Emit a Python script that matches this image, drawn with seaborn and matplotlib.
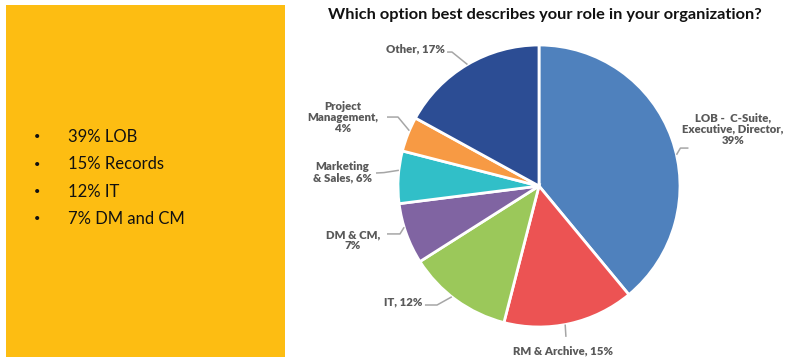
import matplotlib
matplotlib.use("Agg")
import matplotlib.pyplot as plt
import matplotlib.patches as mpatches
import numpy as np
import seaborn as sns

# Survey responses: role in the organization
roles = ["LOB -  C-Suite,\nExecutive, Director,\n39%", "RM & Archive, 15%", "IT, 12%",
         "DM & CM,\n7%", "Marketing\n& Sales, 6%", "Project\nManagement,\n4%", "Other, 17%"]
shares = [39, 15, 12, 7, 6, 4, 17]
colors = ["#4F81BD", "#EC5353", "#9BC85A", "#8064A2", "#31BFC8", "#F79A44", "#2C4D94"]

highlights = ["39% LOB", "15% Records", "12% IT", "7% DM and CM"]
title = "Which option best describes your role in your organization?"

sns.set_theme(style="white")
plt.rcParams["font.family"] = ["Lato", "DejaVu Sans"]

W, H = 792, 357
fig = plt.figure(figsize=(W / 100, H / 100), dpi=100)
fig.patch.set_facecolor("white")

# Highlight panel on the left
panel = mpatches.Rectangle((6 / W, 0), 279 / W, (H - 5) / H, transform=fig.transFigure,
                           facecolor="#FDBD12", edgecolor="none", zorder=0)
fig.patches.append(panel)
for i, line in enumerate(highlights):
    y = 1 - (137 + i * 27.3) / H
    fig.text(37 / W, y, "\u2022", fontsize=8, color="#111111", va="center", ha="center")
    fig.text(68 / W, y, line, fontsize=12, color="#111111", va="center", ha="left")

fig.text(545 / W, 1 - 15 / H, title, fontsize=11.75, fontweight="bold",
         color="#111111", ha="center", va="center")

# Pie axes: centre (539, 186) px, radius 141 px
cx, cy, r = 539, 186, 141
ax = fig.add_axes([(cx - r) / W, (H - cy - r) / H, 2 * r / W, 2 * r / H])
wedges, _ = ax.pie(shares, colors=colors, startangle=90, counterclock=False, radius=1,
                   wedgeprops=dict(edgecolor="white", linewidth=2))
ax.set_xlim(-1, 1)
ax.set_ylim(-1, 1)
ax.set_aspect("equal")
ax.axis("off")

# Label layout: text position, alignment, leader start/elbow, leader touch angle (deg)
layout = [
    dict(xy=(1.376, 0.404), ha="center", elbow=(1.003, 0.269), ang=12.8, start=(1.06, 0.269)),
    dict(xy=(0.17, -1.17), ha="center", elbow=(0.191, -1.07), ang=-79.3, start=(0.191, -1.07)),
    dict(xy=(-0.83, -0.823), ha="right", elbow=(-0.723, -0.844), ang=-128.2, start=(-0.809, -0.844)),
    dict(xy=(-1.319, -0.383), ha="center", elbow=(-0.986, -0.34), ang=-163.0, start=(-1.078, -0.34)),
    dict(xy=(-1.397, 0.099), ha="center", elbow=(-1.1, 0.095), ang=173.6, start=(-1.156, 0.092)),
    dict(xy=(-1.39, 0.489), ha="center", elbow=(-1.0, 0.489), ang=156.9, start=(-1.078, 0.489)),
    dict(xy=(-0.667, 0.972), ha="right", elbow=(-0.617, 0.95), ang=120.5, start=(-0.652, 0.95)),
]
for lab, lay in zip(roles, layout):
    a = np.deg2rad(lay["ang"])
    px, py = np.cos(a), np.sin(a)
    xs = [lay["start"][0], lay["elbow"][0], px]
    ys = [lay["start"][1], lay["elbow"][1], py]
    ax.plot(xs, ys, color="#A6A6A6", lw=1.1, clip_on=False, solid_capstyle="butt")
    ax.text(lay["xy"][0], lay["xy"][1], lab, ha=lay["ha"], va="center", fontsize=8.2,
            fontweight="heavy", color="#595959", linespacing=1.0, clip_on=False)

fig.savefig("out.png", dpi=100, facecolor="white")
